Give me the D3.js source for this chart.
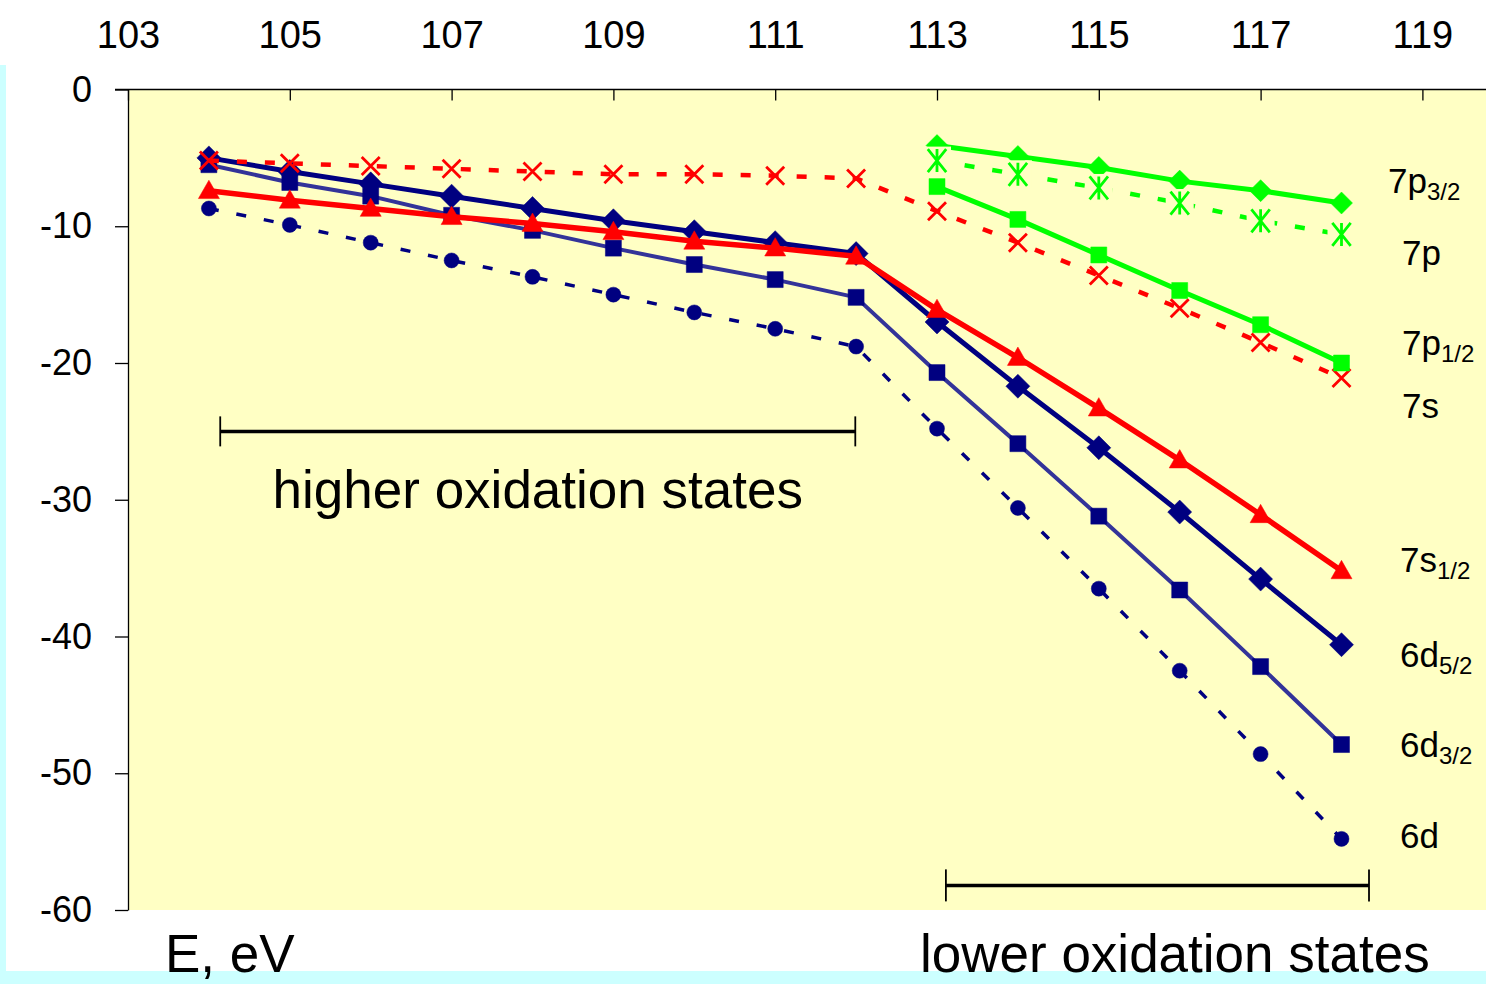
<!DOCTYPE html>
<html>
<head>
<meta charset="utf-8">
<script src="https://cdn.jsdelivr.net/npm/d3@7"></script>
<style>
  html, body { margin: 0; padding: 0; background: #ffffff; }
  svg { display: block; font-family: "Liberation Sans", Arial, Helvetica, sans-serif; }
</style>
</head>
<body>
<svg id="chart" width="1486" height="984"></svg>
<script>
// Atomic numbers (element 104 .. 118)
const zAll   = [104, 105, 106, 107, 108, 109, 110, 111, 112, 113, 114, 115, 116, 117, 118];
const zLower = [113, 114, 115, 116, 117, 118];

// Orbital energies, eV
const e6d52 = [-5.0, -6.0, -6.9, -7.8, -8.7, -9.6, -10.4, -11.2, -12.0, -17.0, -21.7, -26.2, -30.9, -35.8, -40.6];
const e6d32 = [-5.5, -6.8, -7.8, -9.2, -10.3, -11.6, -12.8, -13.9, -15.2, -20.7, -25.9, -31.2, -36.6, -42.2, -47.9];
const e6d   = [-8.7, -9.9, -11.2, -12.5, -13.7, -15.0, -16.3, -17.5, -18.8, -24.8, -30.6, -36.5, -42.5, -48.6, -54.8];
const e7s12 = [-7.4, -8.1, -8.7, -9.3, -9.8, -10.4, -11.1, -11.6, -12.2, -16.1, -19.6, -23.3, -27.1, -31.1, -35.2];
const e7s   = [-5.2, -5.4, -5.6, -5.8, -6.0, -6.2, -6.2, -6.3, -6.5, -8.9, -11.2, -13.6, -16.0, -18.5, -21.1];
const e7p12 = [-7.1, -9.5, -12.1, -14.7, -17.2, -20.0];
const e7p32 = [-4.1, -4.9, -5.7, -6.7, -7.4, -8.3];
const e7p   = [-5.2, -6.2, -7.2, -8.3, -9.6, -10.6];

// Axis ticks
const xTicks = [103, 105, 107, 109, 111, 113, 115, 117, 119];
const yTicks = [0, -10, -20, -30, -40, -50, -60];

// Oxidation-state ranges (atomic number span, energy level of the bracket)
const higherRange = [104.14, 111.99];
const lowerRange  = [113.11, 118.34];
const higherLevel = -25.0;
const lowerLevel  = -58.2;

// Series labels: main text and subscript
const labelMain = ["7p", "7p", "7p", "7s", "7s", "6d", "6d", "6d"];
const labelSub  = ["3/2", "", "1/2", "", "1/2", "5/2", "3/2", ""];

const svg = d3.select("#chart");
const W = 1486, H = 984;

const x = d3.scaleLinear().domain([103, 119]).range([128, 1422.4]);
const y = d3.scaleLinear().domain([0, -60]).range([89.5, 910]);

// page frame strips
svg.append("rect").attr("x", 0).attr("y", 65).attr("width", 6).attr("height", H - 65).attr("fill", "#ccffff");
svg.append("rect").attr("x", 0).attr("y", 971).attr("width", W).attr("height", H - 971).attr("fill", "#ccffff");

// plot area
const plotBg = "#ffffc4";
svg.append("rect")
  .attr("x", x(103)).attr("y", y(0))
  .attr("width", W - x(103)).attr("height", y(-60) - y(0))
  .attr("fill", plotBg);

// top axis
const xAxis = d3.axisTop(x).tickValues(xTicks).tickSizeInner(-11).tickSizeOuter(0).tickPadding(42)
  .tickFormat(d => String(d));
const gx = svg.append("g").attr("transform", `translate(0,${y(0)})`).call(xAxis);
gx.select(".domain").remove();
gx.selectAll(".tick line").attr("stroke", "#000").attr("stroke-width", 1.3);
gx.selectAll(".tick text").attr("font-size", 38).attr("fill", "#000")
  .attr("font-family", "'Liberation Sans', Arial, sans-serif");
svg.append("line").attr("x1", 115).attr("x2", W).attr("y1", y(0)).attr("y2", y(0))
  .attr("stroke", "#000").attr("stroke-width", 1.3);

// left axis
const yAxis = d3.axisLeft(y).tickValues(yTicks).tickSizeInner(13).tickSizeOuter(0).tickPadding(23)
  .tickFormat(d => String(d));
const gy = svg.append("g").attr("transform", `translate(${x(103)},0)`).call(yAxis);
gy.select(".domain").attr("stroke", "#000").attr("stroke-width", 1.3);
gy.selectAll(".tick line").attr("stroke", "#000").attr("stroke-width", 1.3);
gy.selectAll(".tick text").attr("font-size", 36).attr("fill", "#000")
  .attr("font-family", "'Liberation Sans', Arial, sans-serif");

// marker shapes
const markerPath = {
  diamond: r => `M0,${-r}L${r},0L0,${r}L${-r},0Z`,
  square: r => `M${-r},${-r}H${r}V${r}H${-r}Z`,
  triangle: r => `M0,${-r}L${r},${r * 0.75}L${-r},${r * 0.75}Z`,
  circle: r => d3.symbol(d3.symbolCircle, Math.PI * r * r)(),
  cross: r => `M${-r},${-r}L${r},${r}M${-r},${r}L${r},${-r}`,
  star: r => `M${-r * 0.8},${-r}L${r * 0.8},${r}M${-r * 0.8},${r}L${r * 0.8},${-r}M0,${-r}V${r}`
};

const navy = "#000080", blue = "#333399", red = "#ff0000", green = "#00ff00";

const series = [
  { z: zAll, e: e6d,   color: navy,  width: 3.5, dash: "10,18", marker: "circle",   r: 7.5,  filled: true },
  { z: zAll, e: e6d32, color: blue,  width: 4,   dash: null,    marker: "square",   r: 8,    filled: true, mcolor: navy },
  { z: zAll, e: e6d52, color: navy,  width: 5,   dash: null,    marker: "diamond",  r: 12,   filled: true },
  { z: zAll, e: e7s12, color: red,   width: 5.5, dash: null,    marker: "triangle", r: 10.5, filled: true },
  { z: zAll, e: e7s,   color: red,   width: 4.5, dash: "10,18", marker: "cross",    r: 9,    filled: false },
  { z: zLower, e: e7p12, color: green, width: 5, dash: null,    marker: "square",   r: 8,    filled: true },
  { z: zLower, e: e7p32, color: green, width: 5, dash: null,    marker: "diamond",  r: 11,   filled: true },
  { z: zLower, e: e7p,   color: green, width: 4.5, dash: "10,18", marker: "star",   r: 11.5, filled: false, backing: true }
];

const line = d3.line().x(d => x(d[0])).y(d => y(d[1]));

series.forEach(s => {
  const pts = s.z.map((z, i) => [z, s.e[i]]);
  const g = svg.append("g");
  g.append("path").datum(pts).attr("d", line)
    .attr("fill", "none").attr("stroke", s.color).attr("stroke-width", s.width)
    .attr("stroke-dasharray", s.dash).attr("stroke-linejoin", "round");
  if (s.backing) {
    g.selectAll("rect.back").data(pts).join("rect").attr("class", "back")
      .attr("x", d => x(d[0]) - 14).attr("y", d => y(d[1]) - 14)
      .attr("width", 28).attr("height", 28).attr("fill", plotBg);
  }
  const mc = s.mcolor || s.color;
  g.selectAll("path.mk").data(pts).join("path").attr("class", "mk")
    .attr("transform", d => `translate(${x(d[0])},${y(d[1])})`)
    .attr("d", markerPath[s.marker](s.r))
    .attr("fill", s.filled ? mc : "none")
    .attr("stroke", mc)
    .attr("stroke-width", s.filled ? 0.5 : 2.8);
});

// series labels
const labelPos = [[1388, 193], [1402, 265], [1402, 355], [1402, 418], [1400, 572], [1400, 667], [1400, 757], [1400, 848]];
labelMain.forEach((t, i) => {
  const txt = svg.append("text").attr("x", labelPos[i][0]).attr("y", labelPos[i][1])
    .attr("font-size", 35).attr("fill", "#000");
  txt.append("tspan").text(t);
  if (labelSub[i]) {
    txt.append("tspan").attr("dy", 7).attr("font-size", 24).text(labelSub[i]);
  }
});

// oxidation-state brackets
function bracket(range, level, cap) {
  const g = svg.append("g").attr("stroke", "#000");
  g.append("line").attr("x1", x(range[0])).attr("x2", x(range[1]))
    .attr("y1", y(level)).attr("y2", y(level)).attr("stroke-width", 3.5);
  range.forEach(v => {
    g.append("line").attr("x1", x(v)).attr("x2", x(v))
      .attr("y1", y(level) - cap).attr("y2", y(level) + cap).attr("stroke-width", 1.8);
  });
}
bracket(higherRange, higherLevel, 15);
bracket(lowerRange, lowerLevel, 16);

svg.append("text").attr("x", (x(higherRange[0]) + x(higherRange[1])) / 2).attr("y", 508)
  .attr("text-anchor", "middle").attr("font-size", 53).attr("fill", "#000").text("higher oxidation states");
svg.append("text").attr("x", 920).attr("y", 972)
  .attr("font-size", 53).attr("fill", "#000").text("lower oxidation states");
svg.append("text").attr("x", 165).attr("y", 972)
  .attr("font-size", 53).attr("fill", "#000").text("E, eV");
</script>
</body>
</html>
